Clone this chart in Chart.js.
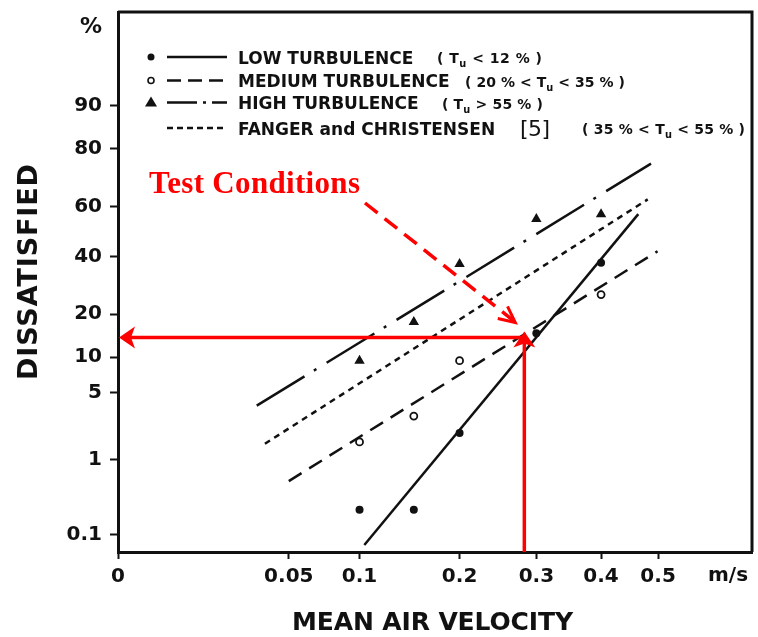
<!DOCTYPE html>
<html>
<head>
<meta charset="utf-8">
<title>Dissatisfied vs mean air velocity</title>
<script src="https://cdn.jsdelivr.net/npm/chart.js@4.4.0/dist/chart.umd.min.js"></script>
<style>
  html, body { margin: 0; padding: 0; background: #fff; }
  #wrap { width: 758px; height: 637px; }
</style>
</head>
<body>
<div id="wrap"><canvas id="chart-canvas" width="758" height="637"></canvas></div>
<script>
// measured points: mean air velocity (m/s) and percent dissatisfied
var lowVel = [0.1, 0.15, 0.2, 0.3, 0.4]
var lowPct = [0.23, 0.23, 2.0, 15, 37.5]
var medVel = [0.1, 0.15, 0.2, 0.4]
var medPct = [1.6, 3.0, 9.4, 26]
var highVel = [0.1, 0.15, 0.2, 0.3, 0.4]
var highPct = [9.4, 17.8, 37, 55, 57]

// fitted lines, start and end of each
var lowLineVel = [0.104, 0.464]
var lowLinePct = [0.07, 57]
var medLineVel = [0.050, 0.499]
var medLinePct = [0.55, 42]
var highLineVel = [0.033, 0.487]
var highLinePct = [3.8, 75.5]
var fangerLineVel = [0.037, 0.481]
var fangerLinePct = [1.53, 62.8]

// test conditions
var testVel = 0.283
var testPct = 14

var xTicks = [0, 0.05, 0.1, 0.2, 0.3, 0.4, 0.5]
var xTickLabels = ['0', '0.05', '0.1', '0.2', '0.3', '0.4', '0.5']
var yTicks = [0.1, 1, 5, 10, 20, 40, 60, 80, 90]
var yTickLabels = ['0.1', '1', '5', '10', '20', '40', '60', '80', '90']

function toPoints(xs, ys) {
    return xs.map(function (v, i) { return { x: v, y: ys[i] } })
}

// inverse normal distribution (Acklam), used for the probability axis
function normInv(p) {
    var a = [-3.969683028665376e+01, 2.209460984245205e+02, -2.759285104469687e+02, 1.383577518672690e+02, -3.066479806614716e+01, 2.506628277459239e+00]
    var b = [-5.447609879822406e+01, 1.615858368580409e+02, -1.556989798598866e+02, 6.680131188771972e+01, -1.328068155288572e+01]
    var c = [-7.784894002430293e-03, -3.223964580411365e-01, -2.400758277161838e+00, -2.549732539343734e+00, 4.374664141464968e+00, 2.938163982698783e+00]
    var d = [7.784695709041462e-03, 3.224671290700398e-01, 2.445134137142996e+00, 3.754408661907416e+00]
    var q, r
    if (p < 0.02425) {
        q = Math.sqrt(-2 * Math.log(p))
        return (((((c[0]*q+c[1])*q+c[2])*q+c[3])*q+c[4])*q+c[5]) / ((((d[0]*q+d[1])*q+d[2])*q+d[3])*q+1)
    }
    if (p > 1 - 0.02425) {
        q = Math.sqrt(-2 * Math.log(1 - p))
        return -(((((c[0]*q+c[1])*q+c[2])*q+c[3])*q+c[4])*q+c[5]) / ((((d[0]*q+d[1])*q+d[2])*q+d[3])*q+1)
    }
    q = p - 0.5
    r = q * q
    return (((((a[0]*r+a[1])*r+a[2])*r+a[3])*r+a[4])*r+a[5])*q / (((((b[0]*r+b[1])*r+b[2])*r+b[3])*r+b[4])*r+1)
}

function normCdf(z) {
    var t = 1 / (1 + 0.3275911 * Math.abs(z) / Math.SQRT2)
    var e = 1 - (((((1.061405429*t - 1.453152027)*t) + 1.421413741)*t - 0.284496736)*t + 0.254829592)*t * Math.exp(-z*z/2)
    return z >= 0 ? 0.5 * (1 + e) : 0.5 * (1 - e)
}

// square-root velocity axis
class SqrtScale extends Chart.LinearScale {
    buildTicks() { return xTicks.map(function (v) { return { value: v } }) }
    getPixelForValue(value) {
        var a = Math.sqrt(this.min), b = Math.sqrt(this.max)
        return this.getPixelForDecimal((Math.sqrt(Math.max(value, 0)) - a) / (b - a))
    }
    getValueForPixel(pixel) {
        var a = Math.sqrt(this.min), b = Math.sqrt(this.max)
        var s = a + this.getDecimalForPixel(pixel) * (b - a)
        return s * s
    }
}
SqrtScale.id = 'sqrt'

// normal probability axis, values in percent
class ProbitScale extends Chart.LinearScale {
    buildTicks() { return yTicks.map(function (v) { return { value: v } }) }
    getPixelForValue(value) {
        var a = normInv(this.min / 100), b = normInv(this.max / 100)
        return this.getPixelForDecimal((normInv(value / 100) - a) / (b - a))
    }
    getValueForPixel(pixel) {
        var a = normInv(this.min / 100), b = normInv(this.max / 100)
        return 100 * normCdf(a + this.getDecimalForPixel(pixel) * (b - a))
    }
}
ProbitScale.id = 'probit'

Chart.register(SqrtScale, ProbitScale)

var ink = '#111'
var red = '#ff0000'
var sans = '"DejaVu Sans", sans-serif'

// draw a string stretched to a given ink width
function fitText(c, str, x, y, width) {
    c.letterSpacing = '0px'
    var w = c.measureText(str).width
    var ls = str.length > 1 ? (width - w) / (str.length - 1) : 0
    c.letterSpacing = ls + 'px'
    c.fillText(str, x, y)
    c.letterSpacing = '0px'
}

// "( T_u < 12 % )" style labels, u drawn as subscript
function drawTu(c, parts, x, y, width, size) {
    var total = 0, count = 0
    c.letterSpacing = '0px'
    parts.forEach(function (p) {
        c.font = 'bold ' + (p.sub ? size * 0.7 : size) + 'px ' + sans
        total += c.measureText(p.t).width
        count += p.t.length
    })
    var ls = (width - total) / (count - 1)
    c.letterSpacing = ls + 'px'
    parts.forEach(function (p) {
        c.font = 'bold ' + (p.sub ? size * 0.7 : size) + 'px ' + sans
        c.fillText(p.t, x, p.sub ? y + size * 0.3 : y)
        x += c.measureText(p.t).width
    })
    c.letterSpacing = '0px'
}

function arrowHead(c, tx, ty, ang, len, half) {
    c.save()
    c.translate(tx, ty)
    c.rotate(ang)
    c.beginPath()
    c.moveTo(0, 0)
    c.lineTo(len, -half)
    c.lineTo(len * 0.75, 0)
    c.lineTo(len, half)
    c.closePath()
    c.fill()
    c.restore()
}

// top and right sides of the frame
var framePlugin = {
    id: 'frame',
    afterDraw: function (chart) {
        var c = chart.ctx, a = chart.chartArea
        c.save()
        c.strokeStyle = ink
        c.lineWidth = 3
        c.beginPath()
        c.moveTo(a.left, a.top)
        c.lineTo(a.right, a.top)
        c.lineTo(a.right, a.bottom)
        c.stroke()
        c.restore()
    }
}

var notesPlugin = {
    id: 'notes',
    afterDraw: function (chart) {
        var c = chart.ctx, a = chart.chartArea
        var xs = chart.scales.x, ys = chart.scales.y
        c.save()
        c.fillStyle = ink
        c.strokeStyle = ink
        c.textBaseline = 'alphabetic'
        c.textAlign = 'left'

        // legend
        var rows = [
            { y: 57, mark: 'dot', dash: [], label: 'LOW TURBULENCE' },
            { y: 80.5, mark: 'ring', dash: [14, 7], label: 'MEDIUM TURBULENCE' },
            { y: 102.5, mark: 'tri', dash: [30, 6, 3, 6], label: 'HIGH TURBULENCE' },
            { y: 128, mark: null, dash: [6, 4], label: 'FANGER and CHRISTENSEN' }
        ]
        rows.forEach(function (r) {
            c.lineWidth = 2.5
            c.setLineDash(r.dash)
            c.beginPath()
            c.moveTo(167, r.y)
            c.lineTo(227, r.y)
            c.stroke()
            c.setLineDash([])
            if (r.mark === 'dot') {
                c.beginPath(); c.arc(151, r.y, 3.5, 0, Math.PI * 2); c.fill()
            } else if (r.mark === 'ring') {
                c.lineWidth = 1.6
                c.beginPath(); c.arc(151, r.y, 3, 0, Math.PI * 2); c.stroke()
            } else if (r.mark === 'tri') {
                c.beginPath(); c.moveTo(151, r.y - 6); c.lineTo(157, r.y + 4); c.lineTo(145, r.y + 4); c.closePath(); c.fill()
            }
            c.font = 'bold 17px ' + sans
            c.fillText(r.label, 238, r.y + 6.5)
        })
        drawTu(c, [{ t: '( T' }, { t: 'u', sub: true }, { t: ' < 12 % )' }], 437, 63, 105, 14)
        drawTu(c, [{ t: '( 20 % < T' }, { t: 'u', sub: true }, { t: ' < 35 % )' }], 465, 87, 160, 14)
        drawTu(c, [{ t: '( T' }, { t: 'u', sub: true }, { t: ' > 55 % )' }], 442, 109, 101, 14)
        drawTu(c, [{ t: '( 35 % < T' }, { t: 'u', sub: true }, { t: ' < 55 % )' }], 582, 134, 163, 14)
        c.font = '22px ' + sans
        fitText(c, '[5]', 520, 136, 30)

        // axis titles and units
        c.font = 'bold 22px ' + sans
        c.fillText('%', 80, 33)
        c.font = 'bold 20px ' + sans
        c.textBaseline = 'middle'
        c.fillText('m/s', 708, 576)
        c.font = 'bold 25px ' + sans
        fitText(c, 'MEAN AIR VELOCITY', 292, 623, 281)
        c.save()
        c.translate(29, 272)
        c.rotate(-Math.PI / 2)
        c.font = 'bold 27px ' + sans
        fitText(c, 'DISSATISFIED', -108, 1, 216)
        c.restore()

        // test conditions
        var px = xs.getPixelForValue(testVel)
        var py = ys.getPixelForValue(testPct)
        c.fillStyle = red
        c.strokeStyle = red
        c.lineWidth = 3.5
        c.beginPath()
        c.moveTo(px, py)
        c.lineTo(a.left + 10, py)
        c.stroke()
        arrowHead(c, a.left + 1, py, 0, 16, 11)
        c.beginPath()
        c.moveTo(px, a.bottom)
        c.lineTo(px, py - 2)
        c.stroke()
        arrowHead(c, px, py - 6, Math.PI / 2, 16, 11)

        c.textBaseline = 'alphabetic'
        c.font = 'bold 31px "Liberation Serif", "Times New Roman", serif'
        fitText(c, 'Test Conditions', 149, 193, 211)

        var sx = 365, sy = 203, tx = px - 9, ty = py - 15
        c.lineWidth = 3.5
        c.setLineDash([16, 9])
        c.beginPath()
        c.moveTo(sx, sy)
        c.lineTo(tx - 2, ty - 2)
        c.stroke()
        c.setLineDash([])
        var ang = Math.atan2(ty - sy, tx - sx)
        c.lineWidth = 3
        c.beginPath()
        c.moveTo(tx - 18 * Math.cos(ang - 0.45), ty - 18 * Math.sin(ang - 0.45))
        c.lineTo(tx, ty)
        c.lineTo(tx - 18 * Math.cos(ang + 0.45), ty - 18 * Math.sin(ang + 0.45))
        c.stroke()
        c.restore()
    }
}

var tickFont = { family: 'DejaVu Sans', weight: 'bold', size: 20 }

var ctx = document.getElementById('chart-canvas').getContext('2d')

var chart = new Chart(ctx, {
    type: 'scatter',
    data: {
        datasets: [
            { label: 'Low turbulence', data: toPoints(lowVel, lowPct), pointStyle: 'circle', pointRadius: 4, pointBackgroundColor: ink, pointBorderColor: ink, pointBorderWidth: 0, order: 1 },
            { label: 'Medium turbulence', data: toPoints(medVel, medPct), pointStyle: 'circle', pointRadius: 3.5, pointBackgroundColor: '#fff', pointBorderColor: ink, pointBorderWidth: 1.8, order: 1 },
            { label: 'High turbulence', data: toPoints(highVel, highPct), pointStyle: 'triangle', pointRadius: 6, pointBackgroundColor: ink, pointBorderColor: ink, pointBorderWidth: 0, order: 1 },
            { label: 'Low line', data: toPoints(lowLineVel, lowLinePct), showLine: true, pointRadius: 0, borderColor: ink, borderWidth: 2.5, order: 2 },
            { label: 'Medium line', data: toPoints(medLineVel, medLinePct), showLine: true, pointRadius: 0, borderColor: ink, borderWidth: 2.5, borderDash: [15, 9], order: 2 },
            { label: 'High line', data: toPoints(highLineVel, highLinePct), showLine: true, pointRadius: 0, borderColor: ink, borderWidth: 2.5, borderDash: [56, 11, 3, 12], order: 2 },
            { label: 'Fanger and Christensen', data: toPoints(fangerLineVel, fangerLinePct), showLine: true, pointRadius: 0, borderColor: ink, borderWidth: 2.5, borderDash: [6, 5], order: 2 }
        ]
    },
    options: {
        responsive: false,
        animation: false,
        events: [],
        layout: { padding: { left: 0, top: 12, right: 4, bottom: 0 } },
        plugins: { legend: { display: false }, tooltip: { enabled: false } },
        scales: {
            x: {
                type: 'sqrt',
                position: 'bottom',
                min: 0,
                max: 0.689,
                grid: { drawOnChartArea: false, tickLength: 7, tickWidth: 2, tickColor: ink },
                border: { width: 3, color: ink },
                ticks: {
                    autoSkip: false, maxRotation: 0, padding: 6, color: ink, font: tickFont,
                    callback: function (value, index) { return xTickLabels[index] }
                },
                afterFit: function (s) { s.height = 85; s.paddingLeft = 0; s.paddingRight = 0 }
            },
            y: {
                type: 'probit',
                position: 'left',
                min: 0.0547,
                max: 98.73,
                grid: { drawOnChartArea: false, tickLength: 8, tickWidth: 2, tickColor: ink },
                border: { width: 3, color: ink },
                ticks: {
                    autoSkip: false, padding: 8, color: ink, font: tickFont,
                    callback: function (value, index) { return yTickLabels[index] }
                },
                afterFit: function (s) { s.width = 118; s.paddingTop = 0; s.paddingBottom = 0 }
            }
        }
    },
    plugins: [framePlugin, notesPlugin]
})
</script>
</body>
</html>
